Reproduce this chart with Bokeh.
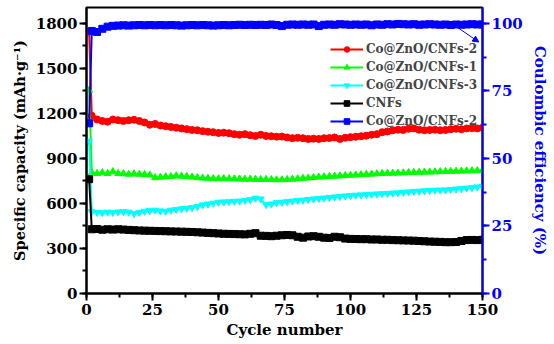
from bokeh.plotting import figure
from bokeh.models import (Range1d, LinearAxis, SingleIntervalTicker, Legend, LegendItem,
                          Arrow, NormalHead)
from bokeh.embed import file_html
from bokeh.resources import INLINE

cycles = [1] + list(range(2, 151, 2))

cap_znocnf2 = [1745,
    1185, 1160, 1150, 1145, 1160, 1155, 1150, 1155, 1158, 1150,
    1140, 1125, 1130, 1120, 1115, 1110, 1105, 1100, 1095, 1090,
    1088, 1082, 1078, 1075, 1070, 1072, 1068, 1062, 1058, 1062,
    1055, 1050, 1058, 1050, 1048, 1045, 1046, 1040, 1035, 1038,
    1035, 1030, 1032, 1030, 1035, 1036, 1040, 1030, 1038, 1042,
    1045, 1048, 1052, 1058, 1062, 1075, 1080, 1088, 1092, 1090,
    1098, 1100, 1092, 1088, 1090, 1092, 1088, 1090, 1095, 1098,
    1095, 1100, 1102, 1100, 1105]

cap_znocnf1 = [1355,
    805, 800, 805, 800, 812, 800, 798, 795, 798, 795,
    793, 790, 772, 775, 778, 780, 785, 782, 780, 776,
    772, 770, 768, 766, 765, 766, 765, 764, 763, 762,
    762, 761, 760, 760, 759, 758, 758, 760, 762, 765,
    768, 770, 773, 776, 778, 780, 782, 784, 786, 788,
    790, 792, 794, 796, 798, 800, 801, 802, 803, 804,
    806, 807, 808, 809, 810, 811, 812, 813, 814, 815,
    816, 817, 818, 819, 820]

cap_znocnf3 = [1015,
    545, 540, 538, 542, 540, 543, 545, 542, 532, 540,
    548, 552, 555, 550, 548, 555, 560, 565, 568, 572,
    580, 590, 596, 602, 608, 610, 612, 614, 616, 620,
    625, 635, 630, 592, 596, 605, 608, 612, 616, 620,
    622, 626, 630, 633, 636, 640, 643, 646, 650, 652,
    655, 657, 659, 661, 663, 665, 667, 669, 671, 674,
    677, 680, 682, 684, 686, 688, 689, 690, 693, 696,
    699, 702, 705, 710, 713]

cap_cnf = [762,
    428, 430, 425, 428, 426, 428, 426, 424, 422, 420,
    419, 418, 417, 416, 415, 414, 413, 412, 411, 410,
    408, 406, 404, 402, 400, 398, 397, 396, 395, 394,
    398, 402, 385, 384, 382, 385, 388, 390, 388, 378,
    372, 380, 382, 378, 372, 370, 378, 375, 366, 364,
    363, 362, 362, 360, 360, 358, 358, 356, 355, 354,
    353, 352, 350, 348, 346, 345, 344, 342, 342, 343,
    350, 356, 357, 356, 358]

ce_znocnf2 = [63.0,
    97.2, 96.8, 98.0, 98.8, 99.1, 99.2, 99.3, 99.2, 99.3, 99.4,
    99.3, 99.4, 99.3, 99.4, 99.3, 99.4, 99.3, 99.2, 99.3, 99.4,
    99.3, 99.4, 99.3, 99.2, 99.3, 99.4, 99.3, 99.4, 99.5, 99.4,
    99.5, 99.4, 99.5, 99.4, 99.6, 99.4, 99.0, 99.5, 99.6, 99.5,
    99.6, 99.5, 99.6, 99.0, 99.5, 99.6, 99.5, 99.7, 99.6, 99.5,
    99.6, 99.5, 99.6, 99.3, 99.6, 99.5, 99.7, 99.6, 99.8, 99.7,
    99.6, 99.7, 99.5, 99.6, 99.7, 99.6, 99.5, 99.6, 99.4, 99.6,
    99.5, 99.6, 99.7, 99.6, 99.6]

legend_labels = ["Co@ZnO/CNFs-2", "Co@ZnO/CNFs-1", "Co@ZnO/CNFs-3", "CNFs", "Co@ZnO/CNFs-2"]

arrow_x = (141, 148.6)
arrow_y = (98.2, 93.1)

FONT = "DejaVu Serif"

p = figure(width=554, height=344, output_backend="svg", toolbar_location=None,
           x_range=Range1d(0, 150), y_range=Range1d(0, 1906),
           min_border_left=86, min_border_right=72, min_border_top=7, min_border_bottom=51)
p.extra_y_ranges = {"eff": Range1d(0, 1906 / 18)}
p.xgrid.visible = False
p.ygrid.visible = False
p.outline_line_color = "black"
p.outline_line_width = 2
p.background_fill_color = "white"
p.border_fill_color = "white"

def style_axis(ax, color):
    ax.axis_line_color = color
    ax.axis_line_width = 2
    ax.major_tick_line_color = color
    ax.minor_tick_line_color = color
    ax.major_tick_line_width = 2
    ax.minor_tick_line_width = 2
    ax.major_tick_in = 0
    ax.major_tick_out = 7
    ax.minor_tick_in = 0
    ax.minor_tick_out = 4
    ax.major_label_text_font = FONT
    ax.major_label_text_font_style = "bold"
    ax.major_label_text_font_size = "15px"
    ax.major_label_text_color = color
    ax.axis_label_text_font = FONT
    ax.axis_label_text_font_style = "bold"
    ax.axis_label_text_color = color

xa = p.xaxis[0]
xa.ticker = SingleIntervalTicker(interval=25, num_minor_ticks=2)
xa.axis_label = "Cycle number"
style_axis(xa, "black")
xa.axis_label_text_font_size = "15px"
xa.major_label_standoff = 3
xa.axis_label_standoff = 3

ya = p.yaxis[0]
ya.ticker = SingleIntervalTicker(interval=300, num_minor_ticks=2)
ya.axis_label = "Specific capacity (mAh·g⁻¹)"
style_axis(ya, "black")
ya.axis_label_text_font_size = "14.5px"
ya.major_label_standoff = 2
ya.axis_label_standoff = 5

ra = LinearAxis(y_range_name="eff", ticker=SingleIntervalTicker(interval=25, num_minor_ticks=2),
                axis_label="Coulombic efficiency (%)")
style_axis(ra, "blue")
ra.axis_label_text_font_size = "15px"
ra.major_label_standoff = 2
ra.axis_label_standoff = 5
p.add_layout(ra, "right")

series = [
    (cap_znocnf2, "red", "circle", "default"),
    (cap_znocnf1, "lime", "triangle", "default"),
    (cap_znocnf3, "cyan", "inverted_triangle", "default"),
    (cap_cnf, "black", "square", "default"),
    (ce_znocnf2, "blue", "square", "eff"),
]

items = []
for (vals, color, marker, rng), lab in zip(series, legend_labels):
    l = p.line(cycles, vals, line_color=color, line_width=2, y_range_name=rng)
    s = p.scatter(cycles, vals, marker=marker, size=7, fill_color=color, line_color=color,
                  y_range_name=rng)
    items.append(LegendItem(label=lab, renderers=[l, s]))

legend = Legend(items=items, location=(244, 165))
legend.label_text_font = FONT
legend.label_text_font_style = "bold"
legend.label_text_font_size = "12px"
legend.border_line_color = None
legend.background_fill_alpha = 0
legend.glyph_width = 33
legend.glyph_height = 14
legend.label_height = 14
legend.spacing = 4
legend.padding = 3
legend.margin = 0
legend.label_standoff = 3
p.add_layout(legend)

p.add_layout(Arrow(end=NormalHead(size=6, fill_color="blue", line_color="blue"),
                   x_start=arrow_x[0], y_start=arrow_y[0], x_end=arrow_x[1], y_end=arrow_y[1],
                   line_color="blue", line_width=1, y_range_name="eff"))

open("out.html", "w").write(file_html(p, INLINE))
